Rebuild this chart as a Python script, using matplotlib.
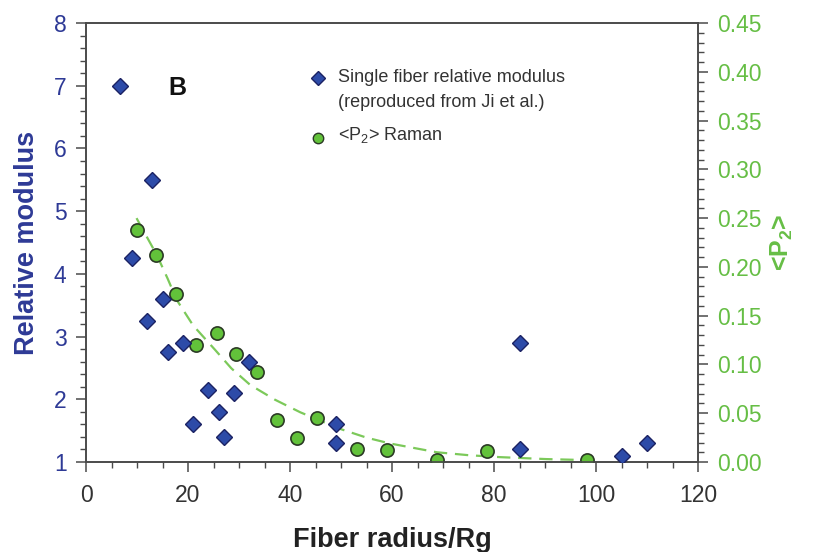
import matplotlib.pyplot as plt
import matplotlib.ticker as ticker

plt.rcParams['font.family'] = ['Liberation Sans', 'DejaVu Sans']
plt.rcParams['mathtext.fontset'] = 'custom'
plt.rcParams['mathtext.rm'] = 'Liberation Sans'
plt.rcParams['mathtext.bf'] = 'Liberation Sans:bold'

# 單纖維相對模量 (左軸)
modulus_x = [6.7, 13, 9, 15, 12, 16, 19, 24, 29, 32, 26, 21, 27, 49, 49, 85, 85, 105, 110]
modulus_y = [7.0, 5.5, 4.25, 3.6, 3.25, 2.75, 2.9, 2.15, 2.1, 2.6, 1.8, 1.6, 1.4, 1.6, 1.3, 2.9, 1.2, 1.1, 1.3]

# <P2> Raman (右軸)
p2_x = [9.9, 13.7, 17.7, 21.6, 25.6, 29.5, 33.5, 37.4, 41.3, 45.2, 53.1, 59.0, 68.9, 78.6, 98.3]
p2_y = [0.238, 0.212, 0.172, 0.120, 0.132, 0.111, 0.092, 0.043, 0.025, 0.045, 0.013, 0.012, 0.002, 0.011, 0.002]

# 擬合虛線
fit_x = [9.9, 12, 13.9, 16, 17.8, 21, 25.3, 28.5, 32.2, 37, 42, 49.8, 55, 59.6, 68.8, 75, 81.2, 90.3, 98]
fit_y = [0.250, 0.230, 0.212, 0.188, 0.166, 0.140, 0.115, 0.096, 0.079, 0.064, 0.051, 0.034, 0.025, 0.019, 0.010, 0.007, 0.005, 0.003, 0.002]

x_ticks = [0, 20, 40, 60, 80, 100, 120]
left_ticks = [1, 2, 3, 4, 5, 6, 7, 8]
right_ticks = [0.00, 0.05, 0.10, 0.15, 0.20, 0.25, 0.30, 0.35, 0.40, 0.45]

navy = '#2E3A96'
green = '#66BE45'
axis_gray = '#4A4A4A'

fig = plt.figure(figsize=(8.14, 5.52), dpi=100)
ax = fig.add_axes([0.1057, 0.163, 0.7518, 0.7953])
ax2 = ax.twinx()

ax2.plot(fit_x, fit_y, linestyle=(0, (6, 3.5)), color='#7CC95A', linewidth=1.6, zorder=1)
ax2.plot(p2_x, p2_y, 'o', markersize=9.5, markerfacecolor='#62C23A',
         markeredgecolor='#2B3A25', markeredgewidth=1.2, zorder=3)
ax.plot(modulus_x, modulus_y, 'D', markersize=8, markerfacecolor='#2D4BA8',
        markeredgecolor='#1B2263', markeredgewidth=1.0, zorder=3)
ax.set_zorder(ax2.get_zorder() + 1)
ax.patch.set_visible(False)

ax.set_xlim(0, 120)
ax.set_ylim(1, 8)
ax2.set_ylim(0, 0.45)

ax.set_xticks(x_ticks)
ax.xaxis.set_minor_locator(ticker.MultipleLocator(5))
ax.set_yticks(left_ticks)
ax.yaxis.set_minor_locator(ticker.MultipleLocator(0.2))
ax2.set_yticks(right_ticks)
ax2.set_yticklabels([f'{t:.2f}' for t in right_ticks])
ax2.yaxis.set_minor_locator(ticker.MultipleLocator(0.01))

for a in (ax, ax2):
    for s in a.spines.values():
        s.set_color(axis_gray)
        s.set_linewidth(1.2)
    a.tick_params(which='major', direction='out', length=7, width=1.1, color=axis_gray, labelsize=16.5)
    a.tick_params(which='minor', direction='out', length=4, width=1.0, color=axis_gray)

ax.tick_params(axis='x', labelcolor='#333333', pad=9)
ax.tick_params(axis='y', labelcolor=navy, pad=7)
ax2.tick_params(axis='y', labelcolor=green, pad=6.5)

ax.set_xlabel('Fiber radius/Rg', fontsize=19.5, fontweight='bold', color='#222222', labelpad=14)
ax.set_ylabel('Relative modulus', fontsize=19.5, fontweight='bold', color=navy, labelpad=10)
ax2.set_ylabel(r'<P$_\mathbf{2}$>', fontsize=18, fontweight='bold', color=green, labelpad=5)

# 面板標記
ax.text(0.150, 0.852, 'B', transform=ax.transAxes, fontsize=18, fontweight='bold',
        color='#111111', ha='center', va='center')

# 手動圖例
ax.plot([0.379], [0.875], 'D', transform=ax.transAxes, markersize=7,
        markerfacecolor='#2D4BA8', markeredgecolor='#1B2263', clip_on=False)
ax.plot([0.379], [0.738], 'o', transform=ax.transAxes, markersize=7.5,
        markerfacecolor='#62C23A', markeredgecolor='#2B3A25', clip_on=False)
ax.text(0.412, 0.875, 'Single fiber relative modulus', transform=ax.transAxes,
        fontsize=13, color='#333333', va='center')
ax.text(0.412, 0.818, '(reproduced from Ji et al.)', transform=ax.transAxes,
        fontsize=13, color='#333333', va='center')
ax.text(0.412, 0.745, '<P$_2$> Raman', transform=ax.transAxes,
        fontsize=13, color='#333333', va='center')

plt.savefig('out.png', dpi=100)
